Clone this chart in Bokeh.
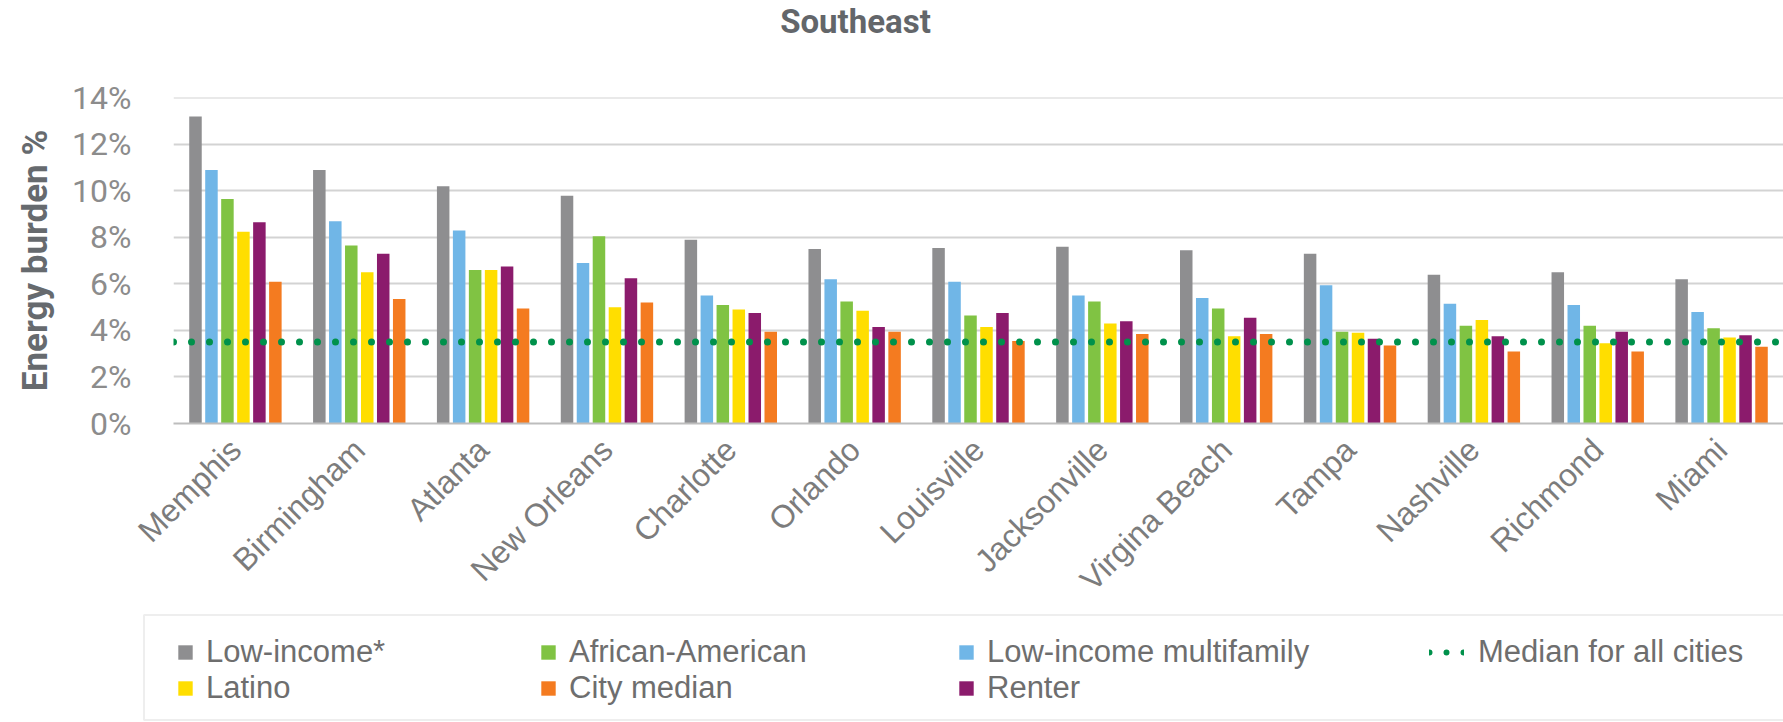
import math
from bokeh.plotting import figure
from bokeh.models import (ColumnDataSource, FactorRange, Range1d, FixedTicker, Label,
                          PrintfTickFormatter, Span, Legend, LegendItem, BoxAnnotation)
from bokeh.layouts import column
from bokeh.transform import dodge
from bokeh.embed import file_html
from bokeh.resources import INLINE

# ---------------- data ----------------
cities = ["Memphis", "Birmingham", "Atlanta", "New Orleans", "Charlotte", "Orlando",
          "Louisville", "Jacksonville", "Virgina Beach", "Tampa", "Nashville",
          "Richmond", "Miami"]
low_income = [13.2, 10.9, 10.2, 9.8, 7.9, 7.5, 7.55, 7.6, 7.45, 7.3, 6.4, 6.5, 6.2]
low_income_multifamily = [10.9, 8.7, 8.3, 6.9, 5.5, 6.2, 6.1, 5.5, 5.4, 5.95, 5.15, 5.1, 4.8]
african_american = [9.65, 7.65, 6.6, 8.05, 5.1, 5.25, 4.65, 5.25, 4.95, 3.95, 4.2, 4.2, 4.1]
latino = [8.25, 6.5, 6.6, 5.0, 4.9, 4.85, 4.15, 4.3, 3.75, 3.9, 4.45, 3.45, 3.7]
renter = [8.65, 7.3, 6.75, 6.25, 4.75, 4.15, 4.75, 4.4, 4.55, 3.65, 3.75, 3.95, 3.8]
city_median = [6.1, 5.35, 4.95, 5.2, 3.95, 3.95, 3.55, 3.85, 3.85, 3.35, 3.1, 3.1, 3.3]
median_all_cities = 3.5
y_ticks = [0, 2, 4, 6, 8, 10, 12, 14]

series_keys = ["low_income", "low_income_multifamily", "african_american", "latino", "renter", "city_median"]
series_labels = ["Low-income*", "Low-income multifamily", "African-American", "Latino", "Renter", "City median"]
series_colors = ["#8e8e90", "#70b6e7", "#80c343", "#ffde00", "#8b1b6c", "#f47b20"]
median_label = "Median for all cities"
median_color = "#00914b"
title_text = "Southeast"

src = ColumnDataSource(dict(city=cities, low_income=low_income,
                            low_income_multifamily=low_income_multifamily,
                            african_american=african_american, latino=latino,
                            renter=renter, city_median=city_median))

W = 1783
H0 = 42           # title strip
H1 = 571          # chart
H2 = 108          # legend strip
FRAME_LEFT = 173
FRAME_TOP = 97 - H0
FRAME_BOTTOM = 426 - H0
Y_MAX = 14.02


def strip(height):
    f = figure(width=W, height=height, output_backend="svg", toolbar_location=None,
               min_border=0, x_axis_type=None, y_axis_type=None,
               x_range=Range1d(0, W), y_range=Range1d(0, height),
               background_fill_color="white", border_fill_color="white")
    f.outline_line_color = None
    return f


# ---------------- title strip ----------------
t = strip(H0)
t.add_layout(Label(x=855, y=H0 / 2, text=title_text, text_align="center",
                   text_baseline="middle", text_font="Roboto", text_font_size="33px",
                   text_font_style="bold", text_color="#63666a"))

# ---------------- main chart ----------------
p = figure(width=W, height=H1, x_range=FactorRange(*cities), y_range=Range1d(0, Y_MAX),
           output_backend="svg", toolbar_location=None,
           min_border_left=FRAME_LEFT, min_border_right=0, min_border_top=FRAME_TOP,
           min_border_bottom=H1 - FRAME_BOTTOM,
           background_fill_color="white", border_fill_color="white")
p.outline_line_color = None

pitch = 0.129
for i, key in enumerate(series_keys):
    p.vbar(x=dodge("city", (i - 2.5) * pitch, range=p.x_range), top=key, width=0.101,
           source=src, fill_color=series_colors[i], line_color=None)

p.add_layout(Span(location=median_all_cities, dimension="width", line_color=median_color,
                  line_width=7, line_dash="0 18", line_cap="round"))

p.yaxis.ticker = FixedTicker(ticks=y_ticks)
p.yaxis.formatter = PrintfTickFormatter(format="%d%%")
p.yaxis.axis_label = "Energy burden %"
p.yaxis.axis_label_text_font = "Roboto"
p.yaxis.axis_label_text_font_size = "35px"
p.yaxis.axis_label_text_font_style = "bold"
p.yaxis.axis_label_text_color = "#666a6e"
p.yaxis.axis_label_standoff = 13
p.yaxis.major_label_text_font = "Roboto"
p.yaxis.major_label_text_font_size = "32px"
p.yaxis.major_label_text_color = "#8c8c8c"
p.yaxis.major_label_standoff = 36
p.yaxis.axis_line_color = None
p.yaxis.major_tick_line_color = None
p.yaxis.minor_tick_line_color = None

p.ygrid.grid_line_color = "#d3d3d3"
p.ygrid.grid_line_width = 2
p.xgrid.grid_line_color = None

p.xaxis.major_label_orientation = math.pi / 4
p.xaxis.major_label_text_font = "Liberation Sans"
p.xaxis.major_label_text_font_size = "32px"
p.xaxis.major_label_text_color = "#7c7c7c"
p.xaxis.major_label_standoff = 15
p.xaxis.axis_line_color = "#bdbdbd"
p.xaxis.axis_line_width = 2
p.xaxis.major_tick_line_color = None
p.xaxis.minor_tick_line_color = None

# ---------------- legend strip ----------------
q = strip(H2)

has_frame_align = "frame_align" in q.properties()
if has_frame_align:
    for f in (t, p, q):
        f.frame_align = False
    x0 = 0
else:
    x0 = FRAME_LEFT
    q.x_range = Range1d(x0, W)
    t.x_range = Range1d(x0, W)

q.add_layout(BoxAnnotation(left=143.5, right=W + 60, bottom=1.5, top=H2 - 1.5,
                           fill_alpha=0, line_color="#c6c6c6", line_width=2))

# hidden helper renderers (outside the visible range) that only feed the legend swatches
dummy = {}
for key, color in zip(series_keys, series_colors):
    dummy[key] = q.vbar(x=[-5000], top=[-5000], width=1, fill_color=color, line_color=None)
dummy_med = q.line(x=[-5000, -4990], y=[-5000, -5000], line_color=median_color, line_width=6,
                   line_dash="0 17", line_cap="round")

lab = dict(zip(series_keys, series_labels))


def make_legend(items, x, y, gw=18, standoff=12):
    lg = Legend(items=items, location=(x - x0, y), orientation="vertical", padding=0, margin=0,
                spacing=0, glyph_width=gw, glyph_height=18, label_height=36,
                label_standoff=standoff, label_text_font="Liberation Sans",
                label_text_font_size="31px", label_text_color="#6e6e6e",
                border_line_color=None, background_fill_alpha=0)
    q.add_layout(lg)


def items_for(keys):
    return [LegendItem(label=lab[k], renderers=[dummy[k]]) for k in keys]


make_legend(items_for(["low_income", "latino"]), 176, 15)
make_legend(items_for(["african_american", "city_median"]), 539, 15)
make_legend(items_for(["low_income_multifamily", "renter"]), 957, 15)
make_legend([LegendItem(label=median_label, renderers=[dummy_med])], 1429, 51, gw=35, standoff=14)

layout = column(t, p, q)
open("out.html", "w").write(file_html(layout, INLINE))
